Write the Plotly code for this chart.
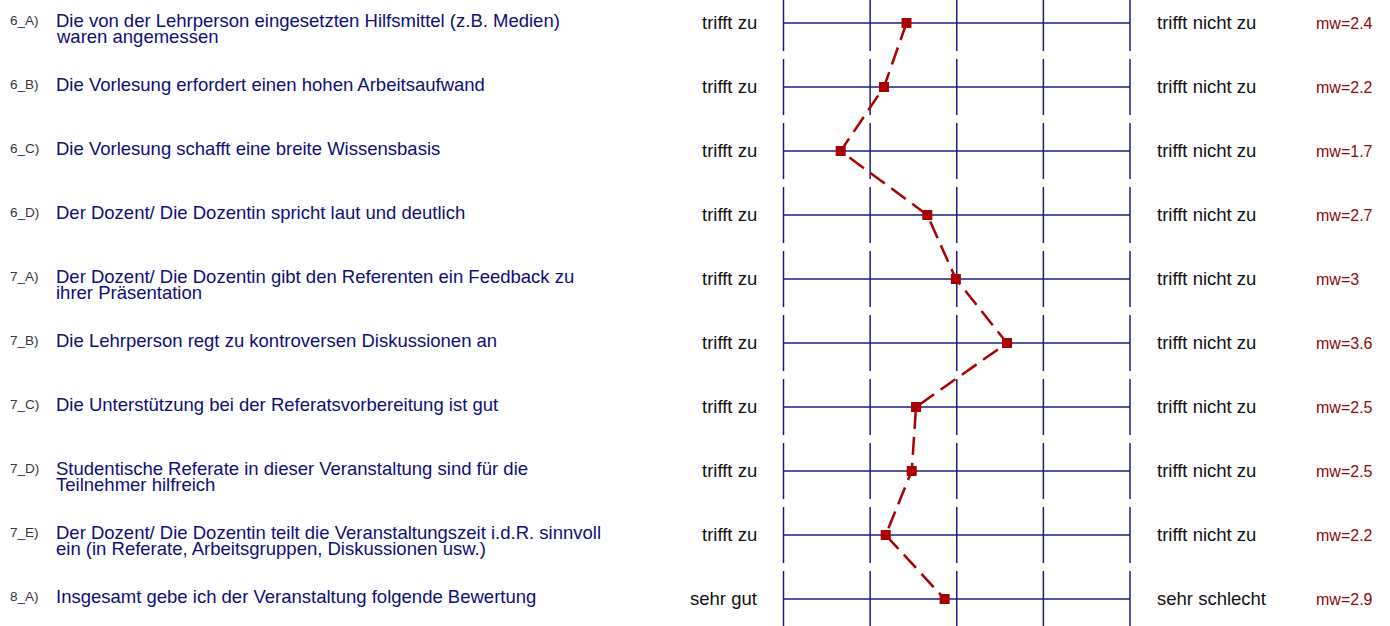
import plotly.graph_objects as go

# ---------------- data ----------------
codes = ["6_A)", "6_B)", "6_C)", "6_D)", "7_A)", "7_B)", "7_C)", "7_D)", "7_E)", "8_A)"]
questions = [
    "Die von der Lehrperson eingesetzten Hilfsmittel (z.B. Medien)<br>waren angemessen",
    "Die Vorlesung erfordert einen hohen Arbeitsaufwand",
    "Die Vorlesung schafft eine breite Wissensbasis",
    "Der Dozent/ Die Dozentin spricht laut und deutlich",
    "Der Dozent/ Die Dozentin gibt den Referenten ein Feedback zu<br>ihrer Präsentation",
    "Die Lehrperson regt zu kontroversen Diskussionen an",
    "Die Unterstützung bei der Referatsvorbereitung ist gut",
    "Studentische Referate in dieser Veranstaltung sind für die<br>Teilnehmer hilfreich",
    "Der Dozent/ Die Dozentin teilt die Veranstaltungszeit i.d.R. sinnvoll<br>ein (in Referate, Arbeitsgruppen, Diskussionen usw.)",
    "Insgesamt gebe ich der Veranstaltung folgende Bewertung",
]
left_labels = ["trifft zu"] * 9 + ["sehr gut"]
right_labels = ["trifft nicht zu"] * 9 + ["sehr schlecht"]
means = [2.42, 2.16, 1.66, 2.66, 2.99, 3.58, 2.53, 2.48, 2.18, 2.86]
scale = [1, 2, 3, 4, 5]

# ---------------- layout constants ----------------
W, H = 1390, 626
NAVY = "#1c1c80"
TEXT_NAVY = "#0e0e78"
RED = "#aa0000"
MW_RED = "#8e0a0a"
FONT = "Arial, Liberation Sans, sans-serif"

x_px0, x_px1 = 783.5, 1130.0          # pixel positions of scale 1 and 5
px_per_unit = (x_px1 - x_px0) / (scale[-1] - scale[0])
x_range = [scale[0] - x_px0 / px_per_unit, scale[0] + (W - x_px0) / px_per_unit]
row0_px, row_px = 23.0, 64.0
y_range = [(H - row0_px) / row_px, -row0_px / row_px]
half_seg = 28.0 / row_px

rows = list(range(len(codes)))

fig = go.Figure()

# horizontal grid lines
hx, hy = [], []
for r in rows:
    hx += [scale[0], scale[-1], None]
    hy += [r, r, None]
fig.add_trace(go.Scatter(x=hx, y=hy, mode="lines",
                         line=dict(color=NAVY, width=1.5),
                         hoverinfo="skip", showlegend=False))

# vertical segments
vx, vy = [], []
for r in rows:
    for s in scale:
        vx += [s, s, None]
        vy += [r - half_seg, r + half_seg, None]
fig.add_trace(go.Scatter(x=vx, y=vy, mode="lines",
                         line=dict(color=NAVY, width=1.5),
                         hoverinfo="skip", showlegend=False))

# profile line
fig.add_trace(go.Scatter(x=means, y=rows, mode="lines+markers",
                         line=dict(color=RED, width=2.5, dash="18px,8px"),
                         marker=dict(symbol="square", size=10, color=RED),
                         hoverinfo="skip", showlegend=False))

ann = []
for r in rows:
    # code label
    ann.append(dict(x=8 / W, xref="paper", y=r, yref="y", xanchor="left",
                    yanchor="middle", yshift=3, showarrow=False, text=codes[r],
                    font=dict(family=FONT, size=13.5, color="#333344")))
    # question text lines
    for k, line in enumerate(questions[r].split("<br>")):
        ann.append(dict(x=54 / W, xref="paper", y=r, yref="y", xanchor="left",
                        yanchor="middle", yshift=3 - 16 * k, showarrow=False, text=line,
                        font=dict(family=FONT, size=18.5, color=TEXT_NAVY)))
    # left / right pole labels
    ann.append(dict(x=759 / W, xref="paper", y=r, yref="y", xanchor="right",
                    yanchor="middle", yshift=1, showarrow=False, text=left_labels[r],
                    font=dict(family=FONT, size=18.5, color="#111111")))
    ann.append(dict(x=1155 / W, xref="paper", y=r, yref="y", xanchor="left",
                    yanchor="middle", yshift=1, showarrow=False, text=right_labels[r],
                    font=dict(family=FONT, size=18.5, color="#111111")))
    # mean label
    mtxt = f"{means[r]:.1f}"
    if mtxt.endswith(".0"):
        mtxt = mtxt[:-2]
    ann.append(dict(x=1314 / W, xref="paper", y=r, yref="y", xanchor="left",
                    yanchor="middle", showarrow=False, text="mw=" + mtxt,
                    font=dict(family=FONT, size=16, color=MW_RED)))

fig.update_layout(
    width=W, height=H,
    margin=dict(l=0, r=0, t=0, b=0),
    paper_bgcolor="white", plot_bgcolor="white",
    xaxis=dict(range=x_range, visible=False, fixedrange=True),
    yaxis=dict(range=y_range, visible=False, fixedrange=True),
    annotations=ann,
    showlegend=False,
)

fig.write_html("out.html", config={"displayModeBar": False},
               post_script="document.body.style.margin='0';document.body.style.padding='0';")
